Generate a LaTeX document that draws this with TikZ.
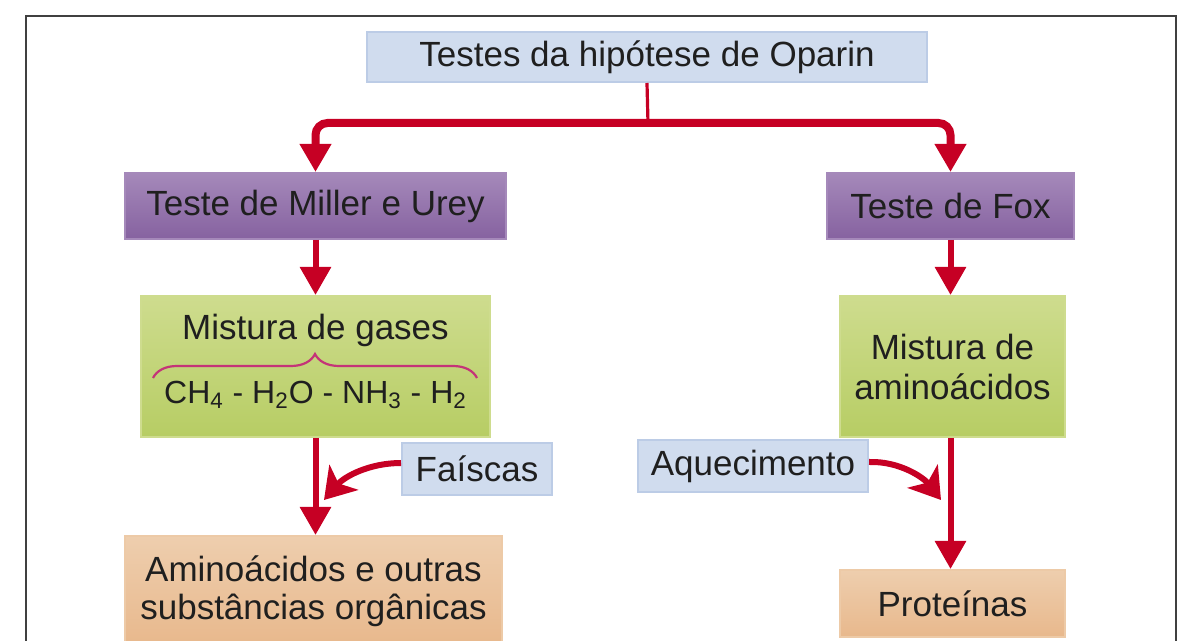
\documentclass[tikz,border=0pt]{standalone}
\usepackage{fontspec}
\setmainfont{Liberation Sans}
\usepackage{tikz}
\usetikzlibrary{arrows.meta, positioning}
\usetikzlibrary{decorations.pathreplacing}
\definecolor{red1}{RGB}{198,0,36}
\definecolor{blue1}{RGB}{208,220,238}
\definecolor{blue2}{RGB}{188,204,230}
\definecolor{purple1}{RGB}{165,137,186}
\definecolor{purple2}{RGB}{134,98,160}
\definecolor{green1}{RGB}{206,220,142}
\definecolor{green2}{RGB}{183,205,100}
\definecolor{orange1}{RGB}{238,206,174}
\definecolor{orange2}{RGB}{232,184,140}
\definecolor{rose1}{RGB}{196,52,120}

\begin{document}
\begin{tikzpicture}[x=0.5pt, y=-0.5pt,
    every node/.style={font=\fontsize{17.5}{20}\selectfont, text=black!88, align=center, inner sep=0pt},
    mainarrow/.style={-{Triangle[width=15pt,length=14pt]}, line width=3pt, red1},
    sidearrow/.style={-{Stealth[width=19pt,length=15pt,inset=4pt]}, line width=3pt, red1},
    bluebox/.style={rectangle, draw=blue2, fill=blue1, line width=1pt},
    testbox/.style={rectangle, draw=purple1, top color=purple1, bottom color=purple2, line width=1pt, minimum height=33pt},
    mixbox/.style={rectangle, draw=green1, top color=green1, bottom color=green2, line width=1pt, minimum height=70.5pt},
    resultbox/.style={rectangle, draw=orange1!80!orange2, top color=orange1, bottom color=orange2, line width=1pt}
]
\clip (0,0) rectangle (1190,641);

% frame
\draw[line width=1.4pt, black!75] (26,700) |- (1176,16) -- (1176,700);

% boxes
\node[bluebox, minimum width=280pt, minimum height=25pt] (oparin) at (647,57) {Testes da hipótese de Oparin};
\node[testbox, minimum width=190.5pt] (miller) at (315.5,206) {Teste de Miller e Urey};
\node[testbox, minimum width=123.5pt] (fox) at (950.5,206) {Teste de Fox};

\node[mixbox, minimum width=174.5pt] (gases) at (315.5,366.5) {};
\node (gasestitle) at (315.5,330) {Mistura de gases};
\node[font=\fontsize{16}{18}\selectfont] (formula) at (315.5,395)
    {CH\textsubscript{4} - H\textsubscript{2}O - NH\textsubscript{3} - H\textsubscript{2}};
\draw[rose1, line width=1.1pt, decorate, decoration={brace, amplitude=12pt}]
    (153,378) -- (477,378);

\node[mixbox, minimum width=112.5pt] (aminomix) at (952.5,366.5) {Mistura de\\aminoácidos};

\node[bluebox, minimum width=75pt, minimum height=26pt] (faiscas) at (477,469) {Faíscas};
\node[bluebox, minimum width=115pt, minimum height=26pt] (aquec) at (753,466) {Aquecimento};

\node[resultbox, minimum width=188.5pt, minimum height=55pt, font=\fontsize{17.5}{19}\selectfont] (organicas) at (313.5,591)
    {Aminoácidos e outras\\substâncias orgânicas};
\node[resultbox, minimum width=112.5pt, minimum height=33.5pt] (proteinas) at (952.5,603.5) {Proteínas};

% top split
\coordinate (split) at (648,123);
\draw[red1, line width=1.6pt] (oparin.south) -- (split);
\draw[mainarrow, line width=4pt, rounded corners=6pt] (split) -| (miller.north);
\draw[mainarrow, line width=4pt, rounded corners=6pt] (split) -| (fox.north);

% downward arrows
\draw[mainarrow] (miller.south) -- (gases.north);
\draw[mainarrow] (fox.south) -- (fox.south |- aminomix.north);
\draw[mainarrow] (gases.south) -- (gases.south |- organicas.north);
\draw[mainarrow] (aminomix.south -| fox.south) -- (fox.south |- proteinas.north);

% side arrows
\coordinate (sparkend) at (324,500);
\coordinate (heatend) at (941,500);
\draw[sidearrow] ([yshift=3pt]faiscas.west) .. controls (370,463) and (345,476) .. (sparkend);
\draw[sidearrow] ([yshift=2pt]aquec.east) .. controls (900,461) and (924,478) .. (heatend);

\end{tikzpicture}
\end{document}
